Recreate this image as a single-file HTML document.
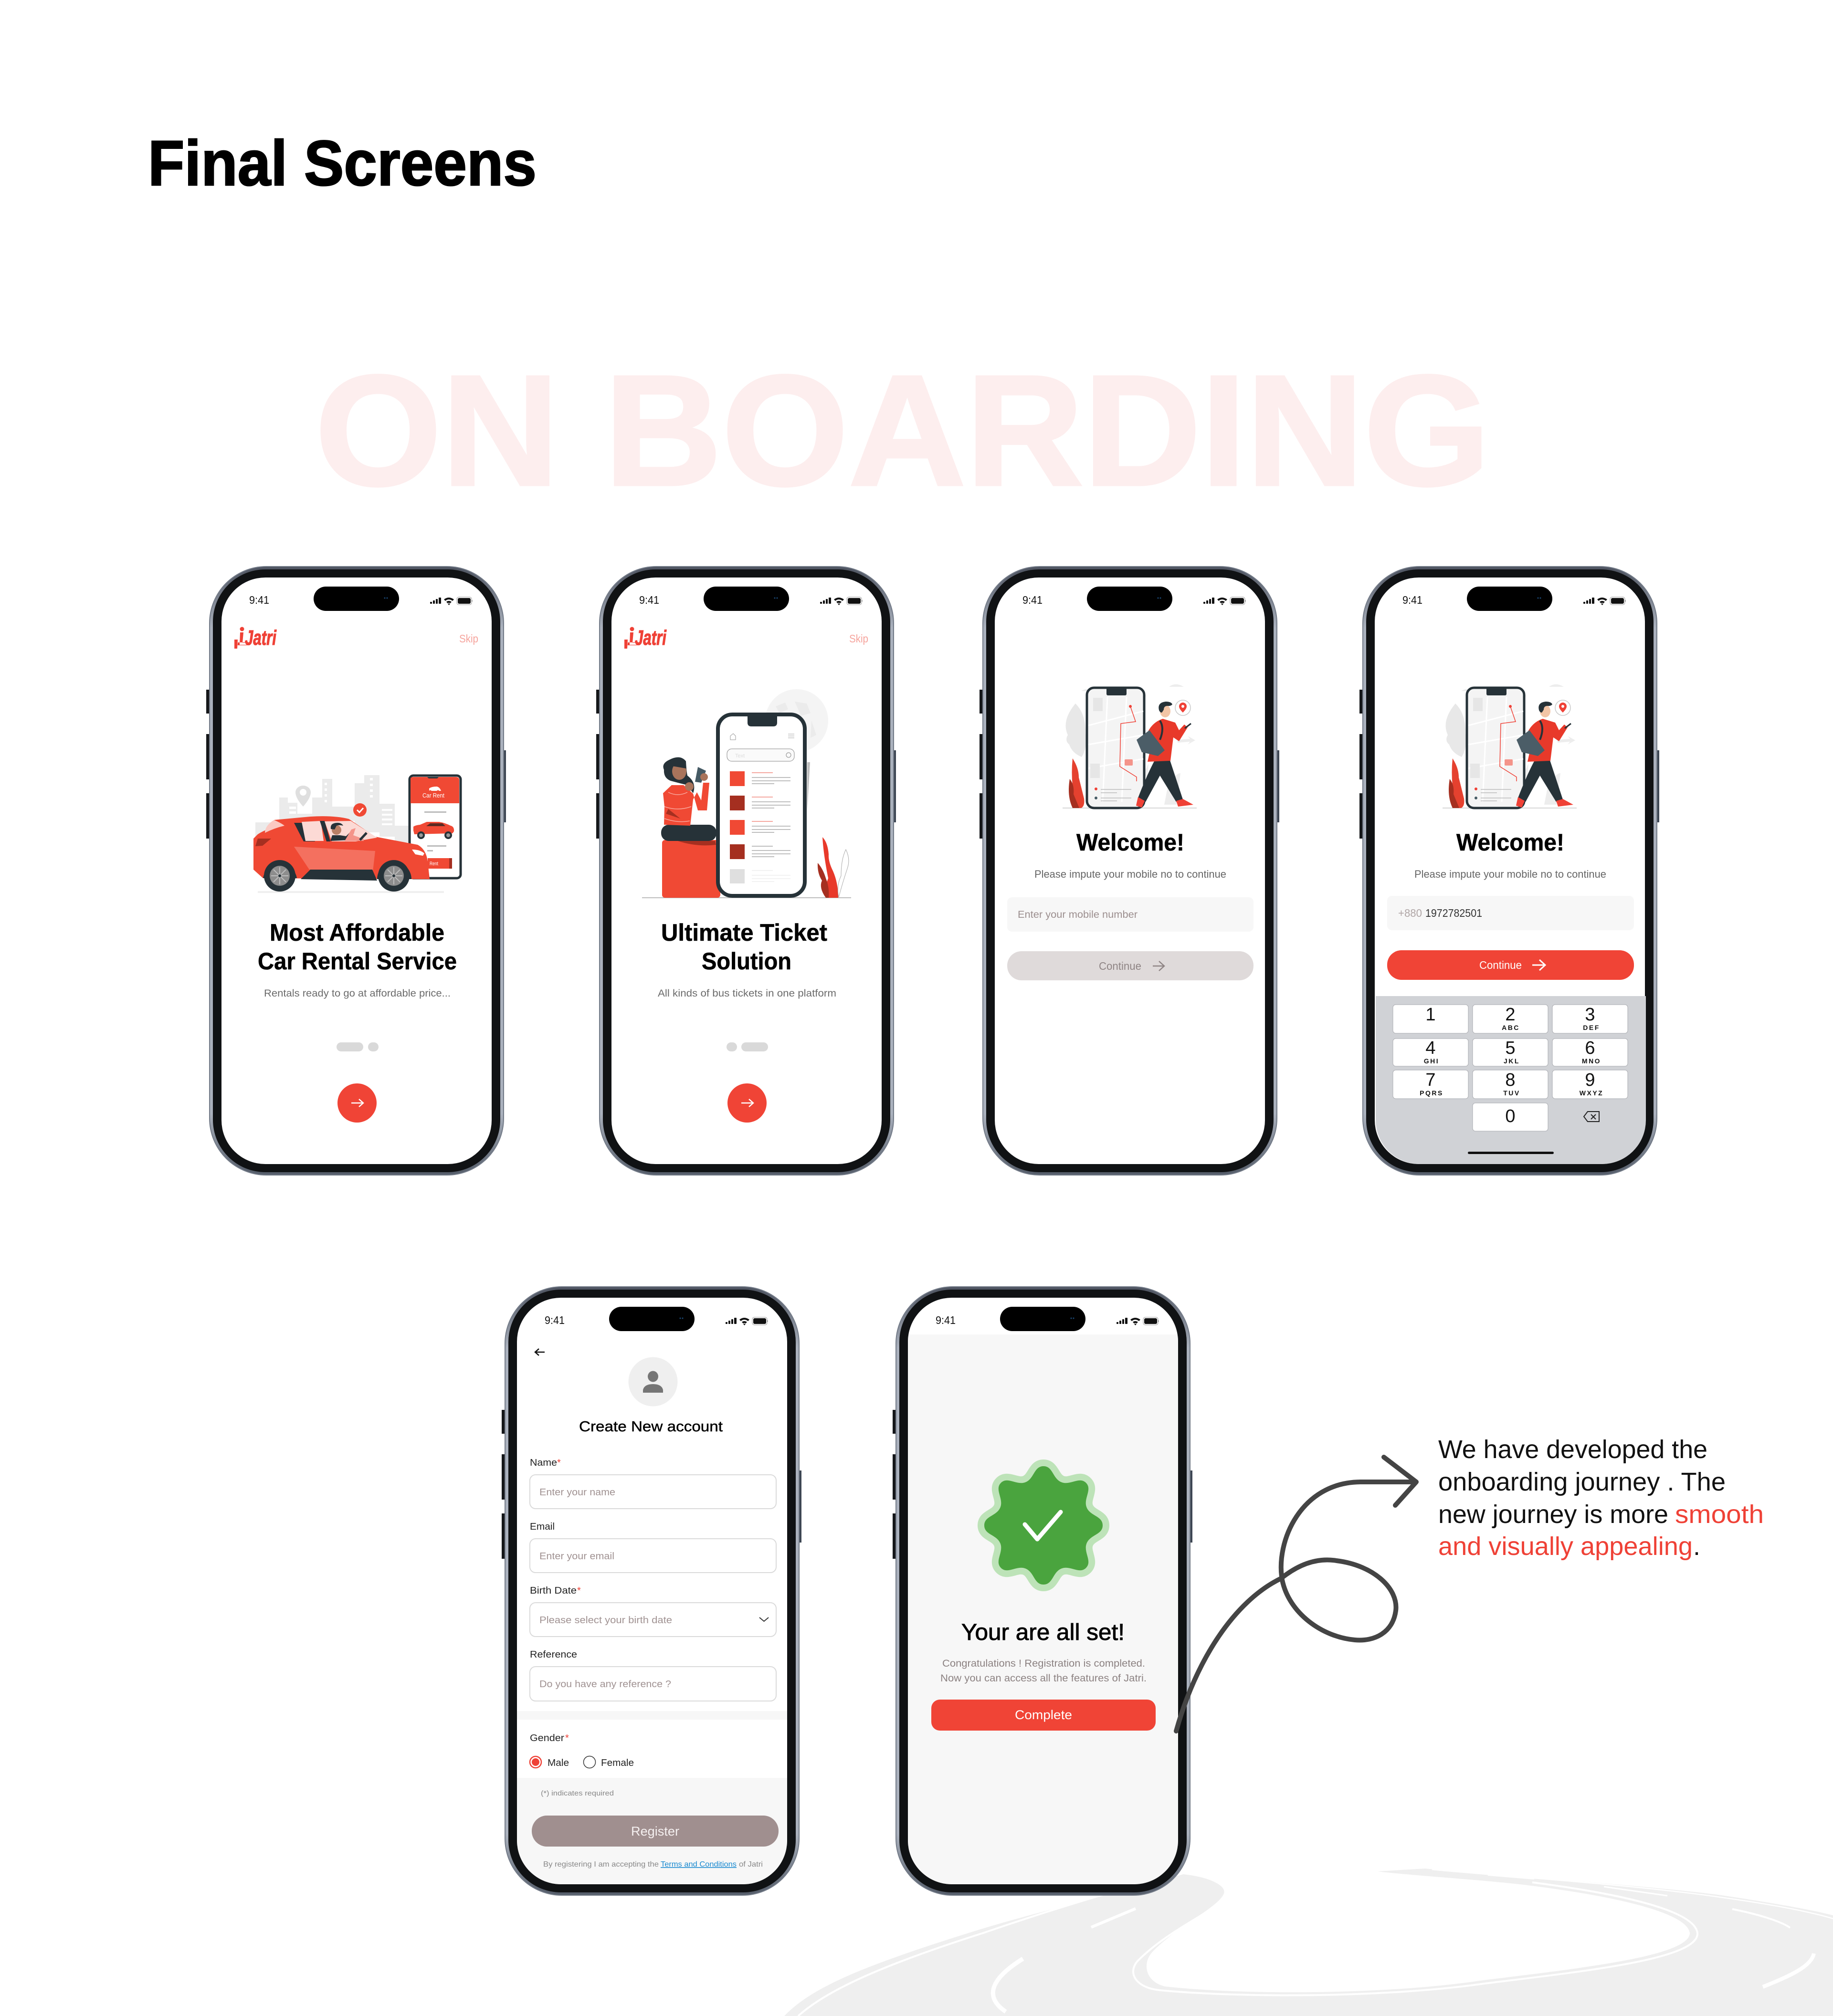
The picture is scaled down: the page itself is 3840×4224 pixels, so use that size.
<!DOCTYPE html>
<html><head><meta charset="utf-8"><title>Final Screens</title>
<style>html,body{margin:0;padding:0;background:#fff}svg{display:block}text{font-family:"Liberation Sans",sans-serif}</style></head>
<body>
<svg xmlns="http://www.w3.org/2000/svg" width="3840" height="4224" viewBox="0 0 3840 4224">
<defs>
<linearGradient id="rim" x1="0" y1="0" x2="0" y2="1"><stop offset="0" stop-color="#4d5360"/><stop offset=".1" stop-color="#aab1bd"/><stop offset=".9" stop-color="#aab1bd"/><stop offset="1" stop-color="#555d6a"/></linearGradient>
<g id="phone">
<rect x="-6" y="259" width="8" height="50" fill="#15171a"/><rect x="-6" y="352" width="8" height="95" fill="#15171a"/><rect x="-6" y="476" width="8" height="95" fill="#15171a"/>
<rect x="616" y="386" width="6" height="151" fill="#3e4754"/>
<rect x="0" y="0" width="618" height="1277" rx="120" fill="#727a87"/>
<rect x="2" y="2" width="614" height="1273" rx="118" fill="url(#rim)"/>
<rect x="8" y="7" width="602" height="1263" rx="110" fill="#101214"/>
<rect x="26" y="24" width="566" height="1229" rx="92" fill="#fff"/>
<rect x="219" y="43" width="179" height="51" rx="25.500" fill="#000"/>
<circle cx="368" cy="67" r="1.500" fill="#1c4a78"/><circle cx="373" cy="67" r="1.500" fill="#1c4a78"/>
<text x="84" y="79" font-size="23" font-weight="500" fill="#111" textLength="42" lengthAdjust="spacingAndGlyphs">9:41</text>
<g fill="#111"><rect x="463" y="75" width="4" height="4" rx="1"/><rect x="469" y="72" width="4" height="7" rx="1"/><rect x="475" y="69" width="4" height="10" rx="1"/><rect x="481" y="66" width="5" height="13" rx="1"/>
<path d="M492 70Q502 62 513 70L510 73Q502 67 495 73ZM497 75Q502 71 508 75L505 78Q502 76 500 78ZM500 79Q502.500 78 505 79L502.500 82Z"/>
<rect x="521" y="67" width="27" height="12" rx="3" fill="#111"/><rect x="549.500" y="71" width="2" height="4" rx="1" fill="#777"/></g>
<rect x="519" y="65" width="31" height="16" rx="4" fill="none" stroke="#999" stroke-width="1"/>
</g>
<g id="logo" fill="#ef4136">
<circle cx="507" cy="1318" r="4.500"/><path d="M503 1325h7l-2 22h12v4h-18zM491 1340h7l-1 19h-6zM497 1352h26v-5l-4 -1h-22z"/>
<text x="513" y="1351" font-size="44" font-weight="700" font-style="italic" stroke="#ef4136" stroke-width="1.200" textLength="66" lengthAdjust="spacingAndGlyphs">Jatri</text>
<text x="962" y="1346" font-size="23" fill="#f6a49d" textLength="40" lengthAdjust="spacingAndGlyphs">Skip</text>
</g>
<g id="nextbtn"><circle cx="748" cy="2311" r="41" fill="#f04436"/><path d="M736 2311H760M752 2303L761 2311L752 2319" fill="none" stroke="#fff" stroke-width="2.500"/></g>

<g id="walker">
<path d="M2265 1448q12-8 25 0zM2450 1438q14-9 30 1h-30zM2350 1460h50v-4h-50z" fill="#ededed"/>
<path d="M2253 1474q22 22 21 62q5 30-8 50q-20-8-26-26q-10-8-3-20q-14-30 16-66z" fill="#e8e8e8"/>
<path d="M2466 1550l27-2 -5-6 16 9-16 9 5-6-26 2z" fill="#ededed"/>
<path d="M2448 1640q20-22 25-20l-8 66h-26zM2406 1600l-10 20 8 10z" fill="#ededed"/>
<path d="M2226 1693H2507" stroke="#c9c9c9" stroke-width="1.500"/>
<path d="M2247 1589q13 20 13 40l11 44q2 16-6 20h-16q-8-25-2-45q-3-30 0-59z" fill="#e5412f"/>
<path d="M2241 1632q10 12 8 32l12 29h-14q-12-25-6-61z" fill="#a52f20"/>
<rect x="2277" y="1441" width="120" height="252" rx="15" fill="#f4f4f4" stroke="#263238" stroke-width="5"/>
<rect x="2318" y="1441" width="42" height="16" rx="3" fill="#263238"/>
<g stroke="#fff" stroke-width="3" fill="none"><path d="M2280 1520L2395 1490M2280 1560L2395 1540M2280 1610L2395 1590M2320 1460L2310 1680M2360 1460L2350 1680"/></g>
<path d="M2290 1462h20v28h-20zM2284 1600h20v30h-20z" fill="#e6e6e6"/>
<path d="M2368 1480L2379 1512L2348 1516L2346 1606L2381 1628V1637" fill="none" stroke="#ef4136" stroke-width="1.500"/>
<circle cx="2368" cy="1480" r="3" fill="#ef4136"/><rect x="2356" y="1591" width="17" height="13" rx="2" fill="#f4948a"/>
<circle cx="2296" cy="1653" r="3" fill="#ef4136"/><circle cx="2296" cy="1672" r="3" fill="#455a64"/>
<path d="M2306 1654H2370M2306 1672H2370M2306 1661H2340M2306 1678H2340" stroke="#bbb" stroke-width="1.500"/>
<circle cx="2478" cy="1483" r="16" fill="#fff" stroke="#c8c8c8" stroke-width="1.500"/>
<path d="M2478 1493q-8-8-8-13a8 8 0 0 1 16 0q0 5-8 13z" fill="#ef4136"/><circle cx="2478" cy="1480" r="3" fill="#fff"/>
<path d="M2418 1595L2450 1590L2478 1675L2464 1680L2430 1625L2400 1680L2384 1672Q2402 1625 2418 1595Z" fill="#263238"/>
<path d="M2384 1670L2398 1678L2392 1692L2380 1688ZM2464 1678L2478 1674L2500 1686L2468 1690Z" fill="#ef4136"/>
<path d="M2436 1506L2462 1514L2470 1530L2481 1518L2488 1524L2470 1553L2458 1545L2452 1594L2404 1596L2412 1560L2398 1550Q2408 1515 2436 1506Z" fill="#e8392a"/>
<path d="M2381 1550L2408 1530L2440 1572L2426 1584L2392 1576Z" fill="#4b5d67"/>
<path d="M2430 1510Q2440 1525 2430 1550" fill="none" stroke="#263238" stroke-width="4"/>
<ellipse cx="2441" cy="1490" rx="11" ry="13" fill="#f2c5a6"/><path d="M2428 1488q-4-16 14-18q12 0 14 6q-4 4-10 3q-8 0-8 8l-4 6q-4 0-6-5z" fill="#263238"/>
<path d="M2482 1526L2495 1516" stroke="#263238" stroke-width="3"/>
</g>
<clipPath id="c4"><rect x="2882" y="1210" width="566" height="1229" rx="92"/></clipPath>
<clipPath id="c5"><rect x="1083" y="2719" width="566" height="1229" rx="92"/></clipPath>
<clipPath id="c6"><rect x="1902" y="2719" width="566" height="1229" rx="92"/></clipPath>
</defs>

<rect width="3840" height="4224" fill="#fff"/>

<!-- road -->
<path d="M1643 4224C1700 4165 1800 4122 2029 4050C2150 4012 2250 3990 2300 3975L2479 3927C2530 3932 2570 3950 2564 3967C2555 3995 2460 4040 2414 4090C2395 4110 2395 4150 2440 4162C2600 4180 2900 4180 3100 4150C3300 4125 3540 4100 3540 4050C3535 4010 3400 3975 3200 3950C3100 3938 2960 3930 2886 3921L2986 3915C3120 3930 3400 3945 3600 3970C3700 3985 3790 4000 3840 4013V4224Z" fill="#efefef"/>
<g fill="none" stroke="#fff">
<path d="M1672 4224C1730 4172 1840 4120 2060 4050C2170 4012 2260 3985 2310 3970" stroke-width="4"/>
<path d="M2490 3926C2540 3932 2580 3950 2572 3970C2560 3998 2450 4040 2382 4110C2362 4135 2380 4165 2430 4170C2600 4186 2900 4186 3110 4156C3320 4130 3560 4105 3556 4050C3550 4005 3410 3970 3210 3944" stroke-width="4"/>
<path d="M3000 3917C3130 3930 3420 3948 3610 3976C3710 3990 3790 4005 3840 4020" stroke-width="2.500"/>
<path d="M2379 3999L2286 4038" stroke-width="6"/>
<path d="M2143 4104C2085 4140 2055 4180 2107 4215" stroke-width="9"/>
<path d="M3117 3929L3214 3937" stroke-width="2"/>
<path d="M3360 3953L3493 3972" stroke-width="3"/>
<path d="M3629 4000C3680 4010 3730 4025 3750 4039" stroke-width="4"/>
<path d="M3800 4093C3795 4120 3750 4140 3693 4163" stroke-width="8"/>
</g>

<text x="310" y="388" font-size="134" font-weight="700" fill="#000" stroke="#000" stroke-width="2.500" textLength="814" lengthAdjust="spacingAndGlyphs">Final Screens</text>
<text x="660" y="1016" font-size="330" font-weight="700" fill="#fdeeee" stroke="#fdeeee" stroke-width="5" textLength="2462" lengthAdjust="spacingAndGlyphs">ON BOARDING</text>

<!-- PHONE 1 -->
<use href="#phone" x="438" y="1186"/>
<use href="#logo"/>
<g>
<g fill="#ebebeb"><rect x="535" y="1723" width="60" height="30"/><rect x="585" y="1671" width="18" height="47"/><rect x="603" y="1682" width="20" height="36"/><rect x="623" y="1705" width="31" height="13"/><rect x="654" y="1671" width="21" height="47"/><rect x="675" y="1632" width="21" height="86"/><rect x="696" y="1690" width="47" height="30"/><rect x="743" y="1641" width="20" height="103"/><rect x="763" y="1624" width="32" height="120"/><rect x="795" y="1684" width="32" height="69"/><rect x="827" y="1730" width="30" height="35"/></g>
<g fill="#fff"><rect x="680" y="1640" width="5" height="5"/><rect x="680" y="1652" width="5" height="5"/><rect x="680" y="1664" width="5" height="5"/><rect x="680" y="1676" width="5" height="5"/><rect x="775" y="1630" width="6" height="5"/><rect x="775" y="1642" width="6" height="5"/><rect x="775" y="1654" width="6" height="5"/><rect x="775" y="1666" width="6" height="5"/><rect x="800" y="1695" width="22" height="4"/><rect x="800" y="1705" width="22" height="4"/><rect x="800" y="1715" width="22" height="4"/><rect x="800" y="1725" width="22" height="4"/><rect x="606" y="1690" width="14" height="5"/><rect x="606" y="1700" width="14" height="5"/></g>
<path d="M635 1690q-16-18-16-30a16 14 0 0 1 32 0q0 12-16 30z" fill="#dfdfdf"/><circle cx="635" cy="1660" r="7" fill="#fff"/>
<rect x="858" y="1625" width="107" height="215" rx="8" fill="#fff" stroke="#263238" stroke-width="5"/>
<path d="M860 1632Q860 1628 866 1628H955Q962 1628 962 1634V1683H860Z" fill="#f04934"/>
<path d="M895 1628h24l-3 3h-18z" fill="#263238"/>
<path d="M899 1657v-5q5-4 16-4q6 1 9 9h-4q-2-3-5 0h-11q-3-3-5 0z" fill="#fff"/>
<text x="885" y="1671" font-size="13" fill="#fff" textLength="46" lengthAdjust="spacingAndGlyphs">Car Rent</text>
<rect x="889" y="1700" width="46" height="3" fill="#bbb"/>
<path d="M866 1740v-8q4-3 14-4l14-6h26q12 2 24 8q8 2 7 12l-3 4l-80 2z" fill="#f04934"/>
<circle cx="882" cy="1750" r="8" fill="#263238"/><circle cx="882" cy="1750" r="4" fill="#999"/><circle cx="939" cy="1750" r="8" fill="#263238"/><circle cx="939" cy="1750" r="4" fill="#999"/>
<path d="M893 1731l8-6h26l6 6z" fill="#5a2a22"/>
<rect x="895" y="1771" width="40" height="3" fill="#bbb"/><rect x="895" y="1781" width="12" height="3" fill="#bbb"/>
<rect x="896" y="1798" width="50" height="22" fill="#f04934"/><rect x="941" y="1798" width="6" height="22" fill="#a52f20"/>
<text x="900" y="1813" font-size="11" fill="#fff" textLength="18" lengthAdjust="spacingAndGlyphs">Rent</text>
<circle cx="754" cy="1697" r="14" fill="#f04934"/><path d="M748 1697l5 5l8-9" fill="none" stroke="#fff" stroke-width="3"/>
<path d="M540 1869H930" stroke="#efefef" stroke-width="4"/>
<path d="M531 1757L531 1822L551 1840L900 1842L896 1805Q893 1780 875 1770L786 1753L731 1716Q700 1708 650 1711L574 1718Q590 1726 590 1730Q560 1735 540 1748Z" fill="#f04934"/>
<path d="M574 1718Q590 1725 596 1730Q575 1735 555 1745Q555 1730 574 1718Z" fill="#fbc9c2"/>
<path d="M616 1724H640L660 1763H636Z" fill="#263238"/>
<path d="M632 1722L672 1720L678 1762L640 1762Z" fill="#fcdad5"/>
<path d="M670 1720L680 1720L692 1763H684Z" fill="#263238"/>
<path d="M680 1721L735 1720L790 1755L745 1763H695Z" fill="#fcdad5"/>
<path d="M616 1774L786 1783L781 1826L680 1825L648 1822Z" fill="#f4705f"/>
<path d="M540 1757H568L550 1772L535 1773Z" fill="#a52f20"/>
<path d="M863 1780Q880 1780 889 1788L886 1793L870 1790Z" fill="#fff"/>
<path d="M630 1842L650 1822H780L790 1845Z" fill="#263238"/>
<path d="M551 1840A36 36 0 0 1 622 1840Z" fill="#263238"/>
<path d="M790 1842A36 36 0 0 1 862 1842Z" fill="#263238"/>
<circle cx="586" cy="1835" r="33" fill="#263238"/><circle cx="586" cy="1835" r="21" fill="#8d8d8d"/>
<circle cx="825" cy="1835" r="33" fill="#263238"/><circle cx="825" cy="1835" r="21" fill="#8d8d8d"/>
<g stroke="#bdbdbd" stroke-width="2"><path d="M568 1835H604M586 1817V1853M573 1822L599 1848M599 1822L573 1848M807 1835H843M825 1817V1853M812 1822L838 1848M838 1822L812 1848"/></g>
<circle cx="586" cy="1835" r="3" fill="#263238"/><circle cx="825" cy="1835" r="3" fill="#263238"/>
<path d="M692 1762L696 1750H712L725 1752L735 1742L742 1745L732 1760Z" fill="#263238"/>
<path d="M722 1762L736 1738L745 1735L740 1750L762 1758V1762Z" fill="#f4948a"/>
<circle cx="705" cy="1739" r="10" fill="#b98066"/><path d="M693 1737q-2-12 12-13q10-1 14 6q-8-2-14 0l-4 8z" fill="#263238"/>
<path d="M754 1760L768 1745" stroke="#263238" stroke-width="5"/>
</g>
<g font-size="50" font-weight="700" fill="#000" stroke="#000" stroke-width=".6">
<text x="565" y="1971" textLength="366" lengthAdjust="spacingAndGlyphs">Most Affordable</text>
<text x="540" y="2031" textLength="417" lengthAdjust="spacingAndGlyphs">Car Rental Service</text>
</g>
<text x="553" y="2088" font-size="21" fill="#6b6b6b" textLength="391" lengthAdjust="spacingAndGlyphs">Rentals ready to go at affordable price...</text>
<rect x="705" y="2184" width="56" height="19" rx="9.500" fill="#d9d9d9"/><rect x="771" y="2184" width="22" height="19" rx="9.500" fill="#d9d9d9"/>
<use href="#nextbtn"/>

<!-- PHONE 2 -->
<use href="#phone" x="1255" y="1186"/>
<use href="#logo" x="817"/>
<g>
<ellipse cx="1669" cy="1510" rx="66" ry="66" fill="#f4f4f4"/>
<path d="M1625 1480l20-8l6 14l-18 8zM1665 1470l25 4l8 20l-20 6zM1700 1510l10 30l-12 6z" fill="#ebebeb"/>
<path d="M1691 1597H1697L1691 1700Z" fill="#bdbdbd"/>
<path d="M1345 1881H1783" stroke="#bdbdbd" stroke-width="2"/>
<rect x="1387" y="1760" width="122" height="121" rx="6" fill="#f04934"/>
<path d="M1420 1762H1498L1500 1770Q1460 1775 1420 1762Z" fill="#a52f20"/>
<rect x="1385" y="1728" width="116" height="34" rx="16" fill="#263238"/>
<path d="M1391 1613Q1385 1600 1402 1592Q1425 1580 1437 1595Q1438 1615 1440 1625Q1460 1640 1452 1662L1440 1645L1420 1640L1405 1636Q1390 1630 1391 1613Z" fill="#263238"/>
<ellipse cx="1423" cy="1616" rx="15" ry="18" fill="#a9745b"/>
<path d="M1405 1605Q1420 1590 1436 1597L1437 1610L1414 1606Z" fill="#263238"/>
<path d="M1389 1662L1407 1645L1432 1645L1452 1663L1462 1698H1481L1486 1640L1473 1640L1469 1677L1460 1660L1452 1675L1446 1730L1391 1728L1392 1690Z" fill="#f04934"/>
<path d="M1400 1660Q1420 1670 1440 1660M1392 1690Q1420 1700 1448 1690M1392 1715Q1420 1725 1445 1720" fill="none" stroke="#f9a99f" stroke-width="1.500"/>
<path d="M1400 1695L1425 1715L1395 1705Z" fill="#a52f20"/>
<path d="M1462 1607L1479 1615L1469 1640L1456 1638Z" fill="#455a64"/>
<circle cx="1475" cy="1628" r="8" fill="#a9745b"/><circle cx="1444" cy="1648" r="9" fill="#a9745b"/>
<rect x="1504" y="1497" width="182" height="380" rx="30" fill="#fff" stroke="#263238" stroke-width="8"/>
<path d="M1566 1497H1628V1514Q1628 1522 1620 1522H1574Q1566 1522 1566 1514Z" fill="#263238"/>
<path d="M1530 1542L1536 1537L1541 1542V1550H1530Z" fill="none" stroke="#999" stroke-width="1"/><path d="M1651 1538H1664M1651 1542H1664M1651 1546H1664" stroke="#aaa" stroke-width="1"/>
<rect x="1523" y="1569" width="141" height="26" rx="10" fill="#fafafa" stroke="#8a8a8a" stroke-width="1"/>
<text x="1540" y="1587" font-size="11" fill="#ddd">Text</text><circle cx="1652" cy="1582" r="5" fill="none" stroke="#888" stroke-width="1"/>
<g><rect x="1529" y="1616" width="31" height="31" fill="#f04934"/><rect x="1529" y="1667" width="31" height="31" fill="#a52f20"/><rect x="1529" y="1718" width="31" height="31" fill="#f04934"/><rect x="1529" y="1769" width="31" height="31" fill="#a52f20"/><rect x="1529" y="1821" width="31" height="30" fill="#dfdfdf"/></g>
<g stroke="#a8a8a8" stroke-width="1.500">
<path d="M1575 1629H1656M1575 1636H1656M1575 1642H1622M1575 1680H1656M1575 1687H1656M1575 1693H1622M1575 1731H1656M1575 1738H1656M1575 1744H1622M1575 1773H1619M1575 1782H1656M1575 1789H1656M1575 1795H1622"/>
<path d="M1575 1619H1619M1575 1670H1619M1575 1721H1619" stroke="#f28b80"/>
<path d="M1575 1824H1619M1575 1834H1656M1575 1841H1656M1575 1847H1622" stroke="#eee"/></g>
<path d="M1723 1754Q1734 1765 1736 1790Q1735 1805 1745 1825Q1756 1850 1756 1881H1730Q1727 1860 1735 1840Q1725 1790 1723 1754Z" fill="#e8392a"/>
<path d="M1713 1808Q1724 1820 1730 1840Q1738 1860 1736 1881H1730Q1715 1860 1722 1845Q1712 1830 1713 1808Z" fill="#a52f20"/>
<path d="M1772 1780Q1782 1800 1775 1820Q1765 1850 1757 1880Q1752 1855 1762 1835Q1762 1800 1772 1780Z" fill="#fff" stroke="#aaa" stroke-width="1"/>
</g>
<g font-size="50" font-weight="700" fill="#000" stroke="#000" stroke-width=".6">
<text x="1385" y="1971" textLength="348" lengthAdjust="spacingAndGlyphs">Ultimate Ticket</text>
<text x="1470" y="2031" textLength="188" lengthAdjust="spacingAndGlyphs">Solution</text>
</g>
<text x="1378" y="2088" font-size="21" fill="#6b6b6b" textLength="374" lengthAdjust="spacingAndGlyphs">All kinds of bus tickets in one platform</text>
<rect x="1522" y="2184" width="22" height="19" rx="9.500" fill="#d9d9d9"/><rect x="1553" y="2184" width="56" height="19" rx="9.500" fill="#d9d9d9"/>
<use href="#nextbtn" x="817"/>

<!-- PHONE 3 -->
<use href="#phone" x="2058" y="1186"/>
<use href="#walker"/>
<text x="2255" y="1782" font-size="50" font-weight="700" fill="#000" stroke="#000" stroke-width=".6" textLength="226" lengthAdjust="spacingAndGlyphs">Welcome!</text>
<text x="2167" y="1839" font-size="22" fill="#666" textLength="402" lengthAdjust="spacingAndGlyphs">Please impute your mobile no to continue</text>
<rect x="2110" y="1880" width="516" height="72" rx="10" fill="#f7f7f7"/>
<text x="2132" y="1923" font-size="21" fill="#9c8f8f" textLength="251" lengthAdjust="spacingAndGlyphs">Enter your mobile number</text>
<rect x="2110" y="1993" width="516" height="61" rx="30" fill="#dfdada"/>
<text x="2302" y="2032" font-size="23" fill="#8f8585" textLength="89" lengthAdjust="spacingAndGlyphs">Continue</text>
<path d="M2415 2024H2438M2428 2014L2439 2024L2428 2034" fill="none" stroke="#8f8585" stroke-width="2.500"/>

<!-- PHONE 4 -->
<use href="#phone" x="2854" y="1186"/>
<use href="#walker" x="796"/>
<text x="3051" y="1782" font-size="50" font-weight="700" fill="#000" stroke="#000" stroke-width=".6" textLength="226" lengthAdjust="spacingAndGlyphs">Welcome!</text>
<text x="2963" y="1839" font-size="22" fill="#666" textLength="402" lengthAdjust="spacingAndGlyphs">Please impute your mobile no to continue</text>
<rect x="2906" y="1877" width="517" height="72" rx="10" fill="#f7f7f7"/>
<text x="2929" y="1921" font-size="23" fill="#b0a6a6" textLength="50" lengthAdjust="spacingAndGlyphs">+880</text>
<text x="2986" y="1921" font-size="23" fill="#333" textLength="119" lengthAdjust="spacingAndGlyphs">1972782501</text>
<rect x="2906" y="1991" width="517" height="62" rx="30" fill="#f04436"/>
<text x="3099" y="2030" font-size="23" fill="#fff" textLength="89" lengthAdjust="spacingAndGlyphs">Continue</text>
<path d="M3210 2022H3236M3225 2011L3237 2022L3225 2033" fill="none" stroke="#fff" stroke-width="3"/>
<g clip-path="url(#c4)">
<rect x="2882" y="2087" width="566" height="352" fill="#d0d2d6"/>
<g fill="#fff" stroke="#a9abb0" stroke-width="1">
<rect x="2918" y="2105" width="158" height="60" rx="6"/><rect x="3085" y="2105" width="158" height="60" rx="6"/><rect x="3252" y="2105" width="158" height="60" rx="6"/>
<rect x="2918" y="2176" width="158" height="58" rx="6"/><rect x="3085" y="2176" width="158" height="58" rx="6"/><rect x="3252" y="2176" width="158" height="58" rx="6"/>
<rect x="2918" y="2242" width="158" height="60" rx="6"/><rect x="3085" y="2242" width="158" height="60" rx="6"/><rect x="3252" y="2242" width="158" height="60" rx="6"/>
<rect x="3085" y="2311" width="158" height="59" rx="6"/></g>
<g font-size="38" fill="#111" text-anchor="middle">
<text x="2997" y="2138">1</text><text x="3164" y="2138">2</text><text x="3331" y="2138">3</text>
<text x="2997" y="2208">4</text><text x="3164" y="2208">5</text><text x="3331" y="2208">6</text>
<text x="2997" y="2275">7</text><text x="3164" y="2275">8</text><text x="3331" y="2275">9</text>
<text x="3164" y="2351">0</text></g>
<g font-size="14" font-weight="700" fill="#111" text-anchor="middle" letter-spacing="2.500">
<text x="3165" y="2158">ABC</text><text x="3334" y="2158">DEF</text>
<text x="2999" y="2228">GHI</text><text x="3167" y="2228">JKL</text><text x="3334" y="2228">MNO</text>
<text x="2999" y="2295">PQRS</text><text x="3167" y="2295">TUV</text><text x="3334" y="2295">WXYZ</text></g>
<path d="M3326 2329H3350V2350H3326L3318 2339.500Z" fill="none" stroke="#222" stroke-width="2"/><path d="M3333 2335L3343 2345M3343 2335L3333 2345" stroke="#222" stroke-width="2"/>
<rect x="3075" y="2413" width="180" height="5" rx="2.500" fill="#111"/>
</g>

<!-- PHONE 5 -->
<use href="#phone" x="1057" y="2695"/>
<g clip-path="url(#c5)">
<rect x="1083" y="3585" width="566" height="18" fill="#f7f7f7"/>
<rect x="1083" y="3725" width="566" height="230" fill="#f7f7f7"/>
</g>
<path d="M1121 2833H1141M1129 2826L1121 2833L1129 2840" fill="none" stroke="#111" stroke-width="2.500"/>
<circle cx="1368" cy="2895" r="51.500" fill="#efefef"/>
<ellipse cx="1368" cy="2884" rx="11" ry="11.500" fill="#757575"/>
<path d="M1347 2918V2912Q1350 2900 1368 2900Q1386 2900 1389 2912V2918Z" fill="#757575"/>
<text x="1213" y="2999" font-size="31" fill="#000" stroke="#000" stroke-width=".5" textLength="301" lengthAdjust="spacingAndGlyphs">Create New account</text>
<g font-size="20" fill="#222">
<text x="1110" y="3071" textLength="57" lengthAdjust="spacingAndGlyphs">Name</text><text x="1167" y="3071" fill="#ef4136">*</text>
<text x="1110" y="3205" textLength="52" lengthAdjust="spacingAndGlyphs">Email</text>
<text x="1110" y="3339" textLength="98" lengthAdjust="spacingAndGlyphs">Birth Date</text><text x="1209" y="3339" fill="#ef4136">*</text>
<text x="1110" y="3473" textLength="99" lengthAdjust="spacingAndGlyphs">Reference</text>
<text x="1110" y="3648" textLength="72" lengthAdjust="spacingAndGlyphs">Gender</text><text x="1184" y="3648" fill="#ef4136">*</text>
<text x="1147" y="3700" textLength="45" lengthAdjust="spacingAndGlyphs">Male</text>
<text x="1259" y="3700" textLength="69" lengthAdjust="spacingAndGlyphs">Female</text>
</g>
<g fill="#fff" stroke="#dadada" stroke-width="2">
<rect x="1110" y="3090" width="516" height="71" rx="12"/><rect x="1110" y="3224" width="516" height="71" rx="12"/><rect x="1110" y="3358" width="516" height="71" rx="12"/><rect x="1110" y="3492" width="516" height="72" rx="12"/></g>
<g font-size="20" fill="#a09292">
<text x="1130" y="3133" textLength="159" lengthAdjust="spacingAndGlyphs">Enter your name</text>
<text x="1130" y="3267" textLength="157" lengthAdjust="spacingAndGlyphs">Enter your email</text>
<text x="1130" y="3401" textLength="278" lengthAdjust="spacingAndGlyphs">Please select your birth date</text>
<text x="1130" y="3535" textLength="276" lengthAdjust="spacingAndGlyphs">Do you have any reference ?</text></g>
<path d="M1591 3389L1600.500 3397L1610 3389" fill="none" stroke="#333" stroke-width="2"/>
<circle cx="1122" cy="3692" r="12" fill="#fff" stroke="#ef4136" stroke-width="2.500"/><circle cx="1122" cy="3692" r="8" fill="#ef4136"/>
<circle cx="1235" cy="3692" r="12.500" fill="#fff" stroke="#333" stroke-width="1.500"/>
<text x="1133" y="3762" font-size="15" fill="#888" textLength="153" lengthAdjust="spacingAndGlyphs">(*) indicates required</text>
<rect x="1114" y="3804" width="517" height="65" rx="32" fill="#a08f8f"/>
<text x="1322" y="3846" font-size="27" fill="#f5f0f0" textLength="101" lengthAdjust="spacingAndGlyphs">Register</text>
<text x="1138" y="3911" font-size="16" fill="#888" textLength="242" lengthAdjust="spacingAndGlyphs">By registering I am accepting the</text>
<text x="1384" y="3911" font-size="16" fill="#1a8ad0" text-decoration="underline" textLength="159" lengthAdjust="spacingAndGlyphs">Terms and Conditions</text>
<text x="1548" y="3911" font-size="16" fill="#888" textLength="50" lengthAdjust="spacingAndGlyphs">of Jatri</text>

<!-- PHONE 6 -->
<use href="#phone" x="1876" y="2695"/>
<g clip-path="url(#c6)"><rect x="1902" y="2796" width="566" height="1160" fill="#f7f7f7"/></g>
<g transform="translate(2186 3196)">
<path d="M0 -124C20 -124 19 -98.200 37.500 -90.500C56 -82.800 75 -103.200 89.100 -89.100C103.200 -75 82.800 -56 90.500 -37.500C98.200 -19 124 -20 124 0C124 20 98.200 19 90.500 37.500C82.800 56 103.200 75 89.100 89.100C75 103.200 56 82.800 37.500 90.500C19 98.200 20 124 0 124C-20 124 -19 98.200 -37.500 90.500C-56 82.800 -75 103.200 -89.100 89.100C-103.200 75 -82.800 56 -90.500 37.500C-98.200 19 -124 20 -124 0C-124 -20 -98.200 -19 -90.500 -37.500C-82.800 -56 -103.200 -75 -89.100 -89.100C-75 -103.200 -56 -82.800 -37.500 -90.500C-19 -98.200 -20 -124 0 -124Z" fill="#4aa43e" stroke="#bde3b8" stroke-width="28" stroke-linejoin="round" paint-order="stroke fill"/>
</g>
<path d="M2147 3194L2173 3225L2222 3168" fill="none" stroke="#fff" stroke-width="9" stroke-linecap="round" stroke-linejoin="round"/>
<text x="2014" y="3436" font-size="48" font-weight="500" fill="#000" stroke="#000" stroke-width=".9" textLength="342" lengthAdjust="spacingAndGlyphs">Your are all set!</text>
<text x="1974" y="3492" font-size="21" fill="#8c8282" textLength="425" lengthAdjust="spacingAndGlyphs">Congratulations ! Registration is completed.</text>
<text x="1970" y="3523" font-size="21" fill="#8c8282" textLength="432" lengthAdjust="spacingAndGlyphs">Now you can access all the features of Jatri.</text>
<rect x="1951" y="3561" width="470" height="65" rx="18" fill="#f04436"/>
<text x="2126" y="3602" font-size="27" fill="#fff" textLength="120" lengthAdjust="spacingAndGlyphs">Complete</text>

<!-- squiggle -->
<g fill="none" stroke="#444" stroke-width="10" stroke-linecap="round" stroke-linejoin="round">
<path d="M2464 3627C2505 3480 2585 3355 2684 3307C2730 3270 2770 3265 2800 3270C2880 3280 2930 3330 2924 3375C2918 3420 2880 3440 2838 3436C2770 3430 2700 3380 2686 3310C2672 3230 2725 3106 2850 3105L2965 3105"/>
<path d="M2899 3053L2967 3105L2923 3154"/>
</g>

<g font-size="54" fill="#111">
<text x="3013" y="3055" textLength="564" lengthAdjust="spacingAndGlyphs">We have developed the</text>
<text x="3013" y="3123" textLength="602" lengthAdjust="spacingAndGlyphs">onboarding journey . The</text>
<text x="3013" y="3191" textLength="482" lengthAdjust="spacingAndGlyphs">new journey is more</text>
<text x="3509" y="3191" fill="#ef4136" textLength="186" lengthAdjust="spacingAndGlyphs">smooth</text>
<text x="3013" y="3258" fill="#ef4136" textLength="533" lengthAdjust="spacingAndGlyphs">and visually appealing</text>
<text x="3547" y="3258">.</text>
</g>
</svg>
</body></html>
